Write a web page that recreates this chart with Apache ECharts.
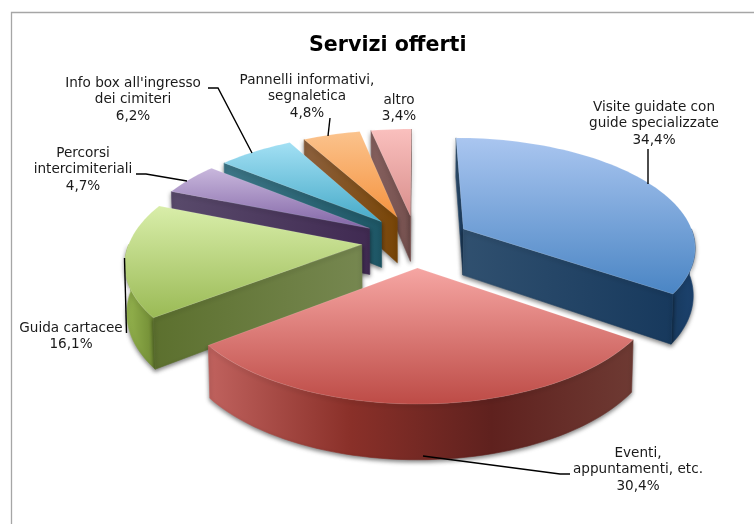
<!DOCTYPE html>
<html>
<head>
<meta charset="utf-8">
<script src="https://cdn.jsdelivr.net/npm/echarts@6/dist/echarts.min.js"></script>
<style>
  html, body { margin: 0; padding: 0; background: #fff; }
  #main { width: 754px; height: 524px; }
</style>
</head>
<body>
<div id="main"></div>
<script>
const chartTitle = 'Servizi offerti';
const categories = [
    'Visite guidate con\nguide specializzate',
    'Eventi,\nappuntamenti, etc.',
    'Guida cartacee',
    'Percorsi\nintercimiteriali',
    "Info box all'ingresso\ndei cimiteri",
    'Pannelli informativi,\nsegnaletica',
    'altro'
];
const values = [34.4, 30.4, 16.1, 4.7, 6.2, 4.8, 3.4];

// piece styles: top face gradient, rim wall gradient, radial wall gradient
const topColors = [
    ['#aac6f0', '#4a85c4'], ['#f6a6a3', '#bd4b46'], ['#d9eeaa', '#9aba55'], ['#c9b8dd', '#8265a6'],
    ['#a3e0f4', '#46aac8'], ['#fbc38d', '#f5933f'], ['#fac0be', '#d98f8c']
];
const rimColors = [
    ['#17395d', '#1c4370'], ['#c0625e', '#8a3029', '#5f211e', '#6e3a33'], ['#97b650', '#6f8a33'], ['#5a4a6e', '#5a4a6e'],
    ['#3a7485', '#3a7485'], ['#8b5f3c', '#8b5f3c'], ['#7f5a58', '#7f5a58']
];
const wallColors = [
    ['#30506f', '#17395d'], ['#6e3a33', '#6e3a33'], ['#5c702e', '#768750'], ['#594a6b', '#402a52'],
    ['#3c7586', '#1d5665'], ['#8c603d', '#784506'], ['#85605e', '#75504e']
];
const labelPos = [[654, 107], [638, 453], [71, 328], [83, 153], [133, 83], [307, 80], [399, 100]];
const leaders = [
    [[648, 149], [648, 184]],
    [[423, 456], [560, 474], [570, 474]],
    [[124.5, 258], [126.5, 333]],
    [[136, 174], [146, 174], [187, 181]],
    [[208, 88], [218, 88], [252, 153]],
    [[330, 118], [328, 136]],
    []
];

// pie projection
const cx = 416, cy = 241, rx = 232, ry = 111.4, persp = 0.15;
const explode = 0.235, depth = 47, step = 2;

function project(X, Y, low) {
    const s = 1 + persp * Y;
    const shrink = low ? 0.993 : 1;
    return [cx + rx * X * s * shrink, cy + ry * Y * s + (low ? depth * s : 0)];
}

function rimPoint(ax, ay, deg, low) {
    const a = deg * Math.PI / 180;
    return project(ax + Math.sin(a), ay - Math.cos(a), low);
}

function gradient(colors, vertical) {
    return {
        type: 'linear', x: 0, y: 0, x2: vertical ? 0 : 1, y2: vertical ? 1 : 0,
        colorStops: colors.map(function (c, i) { return { offset: i / (colors.length - 1), color: c }; })
    };
}

function arc(ax, ay, from, to, low) {
    const pts = [];
    for (let d = from; d < to; d += step) pts.push(rimPoint(ax, ay, d, low));
    pts.push(rimPoint(ax, ay, to, low));
    return pts;
}

const total = values.reduce(function (a, b) { return a + b; }, 0);

function renderPiece(params, api) {
    const i = params.dataIndex;
    const val = api.value(0);
    let before = 0;
    for (let k = 0; k < i; k++) before += values[k];
    const start = before / total * 360;
    const end = start + val / total * 360;
    const mid = (start + end) / 2 * Math.PI / 180;
    const ax = explode * Math.sin(mid), ay = -explode * Math.cos(mid);
    const z = Math.round(ay * 400) + 200;

    const rimTop = arc(ax, ay, start, end, false);
    const apex = project(ax, ay, false), apexLow = project(ax, ay, true);
    const midRim = rimPoint(ax, ay, (start + end) / 2, false);
    const shadow = { shadowBlur: 4, shadowColor: 'rgba(0,0,0,0.5)', shadowOffsetY: 2, lineWidth: 0.6 };
    const children = [];

    // rim wall: only the front half of the circle can be seen
    const visFrom = Math.max(start, 90), visTo = Math.min(end, 270);
    if (visFrom < visTo) {
        const rimFill = gradient(rimColors[i]);
        children.push({
            type: 'polygon', z2: z,
            shape: { points: arc(ax, ay, visFrom, visTo, false).concat(arc(ax, ay, visFrom, visTo, true).reverse()) },
            style: Object.assign({ fill: rimFill, stroke: rimFill }, shadow)
        });
    }

    // radial walls, only where they face the viewer
    [start, end].forEach(function (d) {
        const e0 = rimPoint(ax, ay, d, false), e1 = rimPoint(ax, ay, d, true);
        const dx = e0[0] - apex[0], dy = e0[1] - apex[1];
        const a = dx * (midRim[1] - apex[1]) - dy * (midRim[0] - apex[0]);
        const b = dx * (apexLow[1] - apex[1]) - dy * (apexLow[0] - apex[0]);
        if (a * b < 0) {
            const wallFill = gradient(wallColors[i]);
            children.push({
                type: 'polygon', z2: z + 1,
                shape: { points: [apex, e0, e1, apexLow] },
                style: Object.assign({ fill: wallFill, stroke: wallFill }, shadow)
            });
        }
    });

    children.push({
        type: 'polygon', z2: z + 2,
        shape: { points: [apex].concat(rimTop) },
        style: { fill: gradient(topColors[i], true), stroke: 'rgba(255,255,255,0.2)', lineWidth: 0.6 }
    });

    if (leaders[i].length) {
        children.push({
            type: 'polyline', z2: 900,
            shape: { points: leaders[i] },
            style: { fill: 'none', stroke: '#000', lineWidth: 1.4 }
        });
    }
    children.push({
        type: 'text', z2: 901,
        style: {
            x: labelPos[i][0], y: labelPos[i][1] - 8,
            text: categories[i] + '\n' + val.toFixed(1).replace('.', ',') + '%',
            fill: '#1a1a1a', font: '13.6px "DejaVu Sans"', lineHeight: 16.4,
            align: 'center', verticalAlign: 'top'
        }
    });
    return { type: 'group', children: children };
}

const myChart = echarts.init(document.getElementById('main'), null, { renderer: 'canvas' });
myChart.setOption({
    animation: false,
    backgroundColor: '#fff',
    title: {
        text: chartTitle, left: 304, top: 30,
        textStyle: { color: '#000', fontSize: 20.6, fontWeight: 'bold', fontFamily: 'DejaVu Sans' }
    },
    graphic: [
        { type: 'polyline', shape: { points: [[11.5, 524], [11.5, 12.5], [754, 12.5]] }, style: { fill: 'none', stroke: '#a6a6a6', lineWidth: 1.3 } }
    ],
    series: [{
        type: 'custom',
        coordinateSystem: 'none',
        clip: false,
        renderItem: renderPiece,
        data: values.map(function (v) { return [v]; })
    }]
});
</script>
</body>
</html>
